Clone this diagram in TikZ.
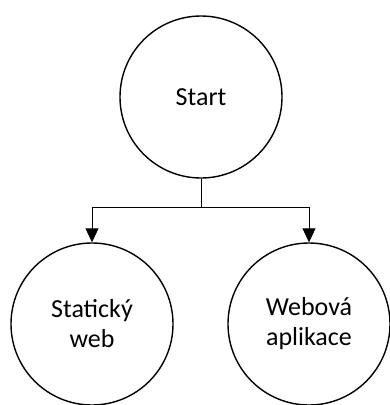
\documentclass[tikz,border=0pt]{standalone}
\usepackage{fontspec}
\setmainfont{Carlito}
\usetikzlibrary{arrows.meta}
\tikzset{
  state/.style={circle, draw, line width=1.4pt, minimum size=162pt, inner sep=0pt,
    align=center, font=\fontsize{26}{30}\selectfont},
  link/.style={line width=0.9pt},
  linkarrow/.style={link, -{Triangle[width=13pt,length=14pt]}}
}
\begin{document}
\begin{tikzpicture}[x=1pt,y=-1pt]
  \useasboundingbox (0,0) rectangle (390,405);
  \clip (0,0) rectangle (390,405);
  \node[state] (start) at (201,97) {Start};
  \node[state] (static) at (92,324) {Statický\\web};
  \node[state] (webapp) at (309,324) {Webová\\aplikace};
  \coordinate (split) at (201,207);
  \draw[link] (start) -- (split);
  \draw[linkarrow] (split) -| (static);
  \draw[linkarrow] (split) -| (webapp);
\end{tikzpicture}
\end{document}
